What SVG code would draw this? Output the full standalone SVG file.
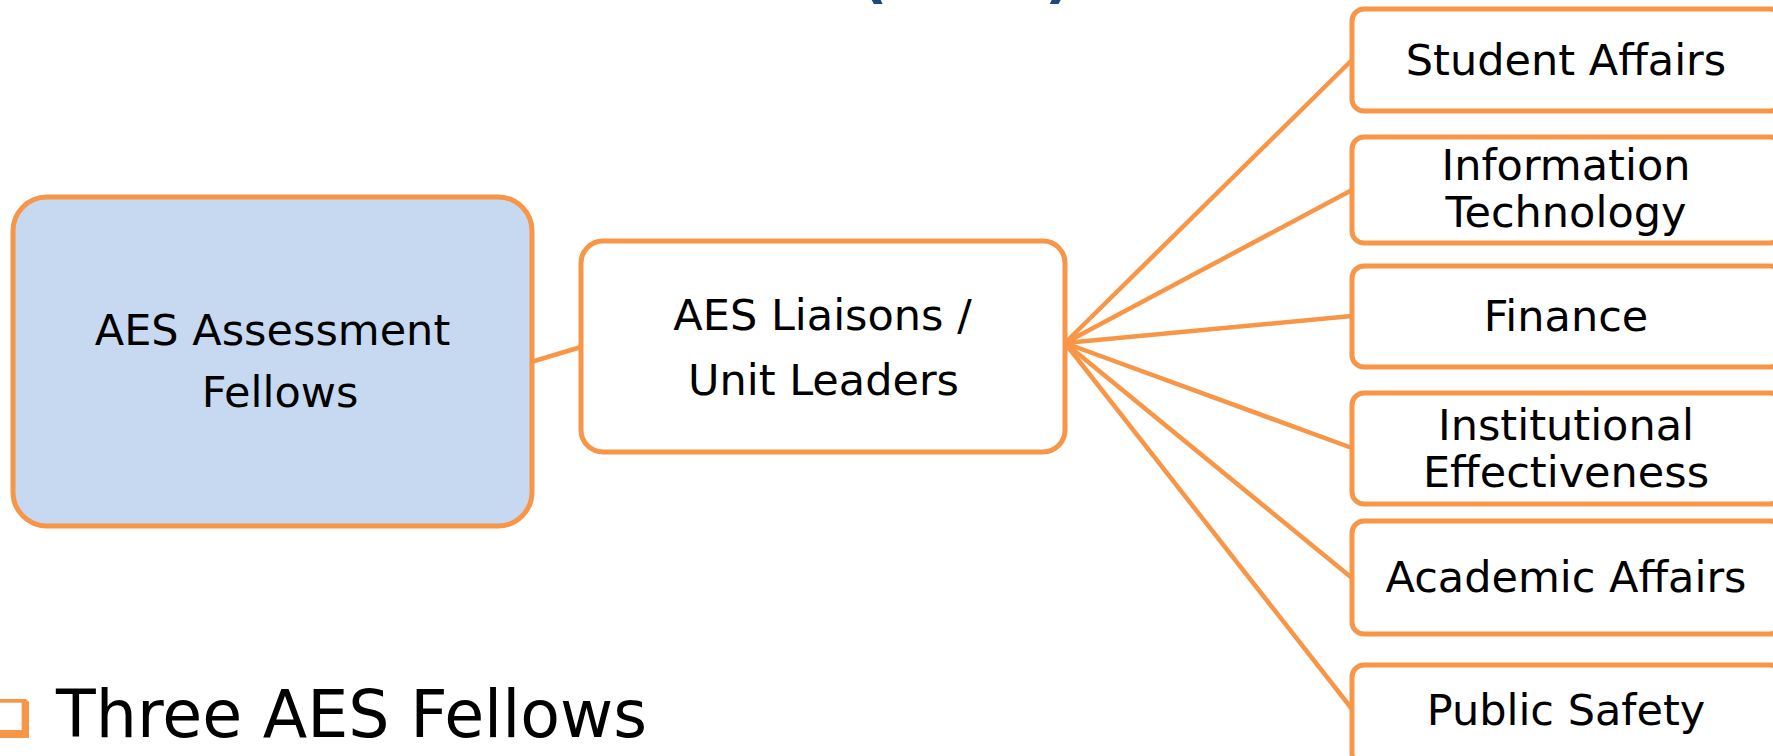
<svg xmlns="http://www.w3.org/2000/svg" width="1773" height="756" viewBox="0 0 1773 756">
<style>
.box{stroke:#F79646;stroke-width:5;}
.w{fill:#FFFFFF;}
.b{fill:#C6D9F0;}
.t{font-family:"DejaVu Sans","Verdana",sans-serif;font-size:43px;fill:#000;text-anchor:middle;}
.c{stroke:#F79646;stroke-width:4.5;fill:none;}
.title{font-family:"DejaVu Sans",sans-serif;font-weight:bold;font-size:60px;fill:#1F497D;}
</style>
<rect width="1773" height="756" fill="#FFFFFF"/>
<g id="title-fragment">
<text class="title" x="860" y="-4">(</text>
<text class="title" x="1045" y="-4">)</text>
</g>
<g id="connectors">
<line class="c" x1="531" y1="362" x2="581" y2="347"/>
<line class="c" x1="1065" y1="343" x2="1352" y2="60"/>
<line class="c" x1="1065" y1="343" x2="1352" y2="190"/>
<line class="c" x1="1065" y1="343" x2="1352" y2="316"/>
<line class="c" x1="1065" y1="343" x2="1352" y2="448"/>
<line class="c" x1="1065" y1="343" x2="1352" y2="578"/>
<line class="c" x1="1065" y1="343" x2="1352" y2="709"/>
</g>
<g id="fellows">
<rect class="box b" x="13" y="197" width="519" height="329" rx="34"/>
<text class="t" x="272.5" y="345">AES Assessment</text>
<text class="t" x="280" y="407">Fellows</text>
</g>
<g id="liaisons">
<rect class="box w" x="581" y="241" width="484" height="211" rx="22"/>
<text class="t" x="822.5" y="330">AES Liaisons /</text>
<text class="t" x="823.5" y="395">Unit Leaders</text>
</g>
<g id="student-affairs">
<rect class="box w" x="1352" y="9" width="430" height="102" rx="12"/>
<text class="t" x="1566" y="75">Student Affairs</text>
</g>
<g id="information-technology">
<rect class="box w" x="1352" y="137" width="430" height="106" rx="12"/>
<text class="t" x="1566" y="180">Information</text>
<text class="t" x="1566" y="227">Technology</text>
</g>
<g id="finance">
<rect class="box w" x="1352" y="266" width="430" height="101" rx="12"/>
<text class="t" x="1566" y="331">Finance</text>
</g>
<g id="institutional-effectiveness">
<rect class="box w" x="1352" y="393" width="430" height="111" rx="12"/>
<text class="t" x="1566" y="440">Institutional</text>
<text class="t" x="1566" y="487">Effectiveness</text>
</g>
<g id="academic-affairs">
<rect class="box w" x="1352" y="521" width="430" height="113" rx="12"/>
<text class="t" x="1566" y="592">Academic Affairs</text>
</g>
<g id="public-safety">
<rect class="box w" x="1352" y="665" width="430" height="100" rx="12"/>
<text class="t" x="1566" y="725">Public Safety</text>
</g>
<g id="bullet">
<path d="M-20 699 H26 L29 702 V738 H-20 Z M-20 702.7 V730 H21.7 V702.7 Z" fill="#F79646" fill-rule="evenodd"/>
<text x="56" y="737" font-family="DejaVu Sans,sans-serif" font-size="65" fill="#000">Three AES Fellows</text>
</g>
</svg>
